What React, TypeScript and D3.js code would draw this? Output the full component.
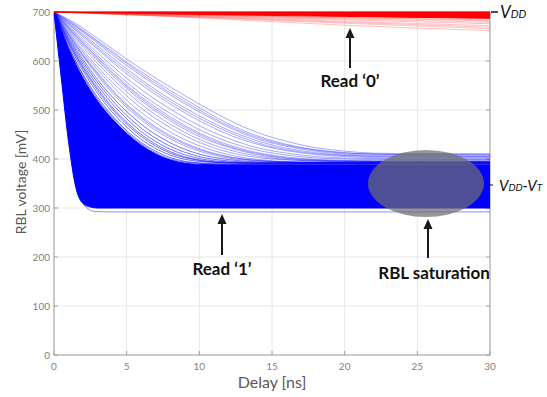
import React from "react";
import * as d3 from "d3";

// Sample times (ns) for the slow-settling "read 1" traces
const delayGrid = [0, 1, 2, 3, 4, 5, 6, 8, 10, 12, 14, 16, 18, 20, 22, 25, 30];

// Slow-discharging bit-line traces (mV) sampled on delayGrid
const slowTraces = [
  [700, 685, 667, 646, 625, 604, 584, 547, 512, 480, 454, 436, 423, 416, 412, 411, 411],
  [700, 683, 663, 641, 620, 598, 578, 540, 505, 472, 447, 430, 419, 413, 410, 409, 408],
  [700, 681, 661, 639, 617, 595, 574, 535, 500, 468, 444, 428, 418, 412, 410, 409, 409],
  [700, 680, 659, 636, 613, 591, 570, 531, 496, 465, 441, 426, 416, 410, 408, 407, 406],
  [700, 678, 655, 631, 607, 584, 562, 522, 488, 459, 437, 422, 413, 408, 406, 405, 405],
  [700, 676, 652, 627, 602, 579, 557, 517, 483, 455, 433, 419, 411, 407, 405, 404, 404],
  [700, 675, 649, 624, 598, 574, 552, 512, 478, 450, 430, 417, 409, 405, 403, 402, 402],
  [700, 672, 644, 617, 590, 565, 542, 502, 468, 442, 423, 412, 405, 402, 401, 400, 400],
  [700, 670, 640, 611, 583, 557, 533, 493, 460, 435, 418, 408, 402, 400, 399, 399, 399],
  [700, 668, 637, 607, 578, 551, 527, 486, 453, 429, 413, 404, 399, 397, 396, 396, 396],
  [700, 667, 635, 604, 575, 548, 523, 482, 450, 426, 411, 402, 398, 396, 396, 396, 396],
  [700, 665, 632, 601, 571, 544, 519, 478, 446, 424, 409, 401, 397, 396, 395, 395, 395],
  [700, 663, 628, 595, 565, 537, 512, 471, 440, 419, 406, 399, 396, 395, 395, 395, 395],
  [700, 660, 622, 588, 557, 529, 504, 464, 434, 414, 403, 398, 396, 395, 395, 395, 395],
  [700, 657, 618, 582, 550, 520, 495, 455, 427, 409, 399, 395, 394, 394, 394, 394, 394],
  [700, 655, 613, 576, 542, 512, 487, 448, 421, 405, 397, 394, 393, 393, 393, 393, 393],
  [700, 654, 611, 573, 539, 509, 484, 445, 419, 404, 397, 394, 393, 393, 393, 393, 393],
  [700, 652, 609, 570, 535, 505, 480, 441, 416, 402, 396, 394, 393, 393, 393, 393, 393],
  [700, 649, 603, 562, 527, 497, 471, 433, 410, 399, 394, 393, 392, 392, 392, 392, 392],
  [700, 646, 598, 556, 520, 489, 463, 426, 405, 396, 393, 392, 392, 392, 392, 392, 392],
  [700, 643, 593, 550, 513, 482, 456, 420, 401, 394, 392, 392, 392, 392, 392, 392, 392],
  [700, 640, 588, 544, 506, 475, 450, 415, 398, 393, 392, 392, 392, 392, 392, 392, 392],
  [700, 638, 585, 540, 502, 471, 446, 412, 397, 392, 391, 391, 391, 391, 391, 391, 391],
  [700, 635, 580, 534, 496, 465, 440, 408, 395, 392, 391, 391, 391, 391, 391, 391, 391],
  [700, 630, 573, 526, 489, 458, 434, 403, 392, 390, 390, 390, 390, 390, 390, 390, 390],
  [700, 628, 570, 522, 486, 455, 431, 400, 391, 389, 389, 389, 389, 389, 389, 389, 389],
];

// Envelope of the dense bundle of "read 1" traces (mV)
const bundleDelay = [0, 0.5, 1, 1.5, 2, 2.5, 3, 4, 5, 6, 8, 10, 12, 15, 20, 25, 30];
const bundleLow = [700, 565, 435, 342, 309, 302, 300, 300, 300, 300, 300, 300, 300, 300, 300, 300, 300];
const bundleHigh = [700, 662, 625, 593, 565, 540, 518, 482, 452, 428, 398, 389, 388, 388, 388, 388, 388];

// Lowest outlier trace
const lowDelay = [0, 0.8, 1.6, 2.2, 2.8, 4, 30];
const lowTrace = [700, 505, 345, 302, 293, 292, 292];

// "Read 0" traces: slight leakage from V_DD
const redDelay = [0, 10, 20, 30];
const redBandLow = [700, 695, 691, 687];
const redTraces = [
  [700, 694, 689, 684],
  [700, 694, 688, 682],
  [700, 693, 686, 679],
  [700, 692, 684, 676],
  [700, 691, 681, 672],
  [700, 690, 679, 669],
  [700, 689, 677, 666],
  [700, 688, 673, 662],
];

const xTicks = [0, 5, 10, 15, 20, 25, 30];
const yTicks = [0, 100, 200, 300, 400, 500, 600, 700];

const W = 547;
const H = 397;
const left = 54;
const right = 490;
const top = 12;
const bottom = 355;

export default function App() {
  const x = d3.scaleLinear().domain([0, 30]).range([left, right]);
  const y = d3.scaleLinear().domain([0, 700]).range([bottom, top]);

  const lineOn = (ts: number[]) =>
    d3
      .line<number>()
      .x((_, i) => x(ts[i]))
      .y((v) => y(v))
      .curve(d3.curveMonotoneX);

  const bundleArea = d3
    .area<number>()
    .x((_, i) => x(bundleDelay[i]))
    .y0((_, i) => y(bundleLow[i]))
    .y1((v) => y(v))
    .curve(d3.curveMonotoneX)(bundleHigh);

  const redArea = d3
    .area<number>()
    .x((_, i) => x(redDelay[i]))
    .y0((v) => y(v))
    .y1(() => y(700))
    .curve(d3.curveMonotoneX)(redBandLow);

  const font = "Lato, 'Open Sans', sans-serif";
  const arrowColor = "#1a1a1a";

  const arrow = (ax: number, y0: number, y1: number) => (
    <g>
      <line x1={ax} x2={ax} y1={y0} y2={y1 + 8} stroke={arrowColor} strokeWidth={2} />
      <path d={`M${ax - 4.5},${y1 + 10} L${ax},${y1} L${ax + 4.5},${y1 + 10} Z`} fill={arrowColor} />
    </g>
  );

  return (
    <svg
      width={W}
      height={H}
      style={{ position: "absolute", left: 0, top: 0, background: "#fff" }}
      fontFamily={font}
    >
      <defs>
        <clipPath id="plot">
          <rect x={left} y={top - 2} width={right - left} height={bottom - top + 2} />
        </clipPath>
      </defs>

      {/* grid */}
      <g stroke="#e8e8e8" strokeWidth={1}>
        {xTicks.map((t) => (
          <line key={"gx" + t} x1={x(t)} x2={x(t)} y1={top} y2={bottom} />
        ))}
        {yTicks.map((t) => (
          <line key={"gy" + t} x1={left} x2={right} y1={y(t)} y2={y(t)} />
        ))}
      </g>

      {/* frame */}
      <rect x={left} y={top} width={right - left} height={bottom - top} fill="none" stroke="#b0b0b0" strokeWidth={1.2} />
      <g stroke="#a0a0a0" strokeWidth={1}>
        {xTicks.map((t) => (
          <g key={"tx" + t}>
            <line x1={x(t)} x2={x(t)} y1={bottom} y2={bottom - 4} />
            <line x1={x(t)} x2={x(t)} y1={top} y2={top + 4} />
          </g>
        ))}
        {yTicks.map((t) => (
          <g key={"ty" + t}>
            <line x1={left} x2={left + 4} y1={y(t)} y2={y(t)} />
            <line x1={right} x2={right - 4} y1={y(t)} y2={y(t)} />
          </g>
        ))}
      </g>

      {/* traces */}
      <g clipPath="url(#plot)">
        <path d={bundleArea ?? ""} fill="#0000ff" stroke="#0000ff" strokeWidth={1} />
        <path d={lineOn(lowDelay)(lowTrace) ?? ""} fill="none" stroke="#0000ff" strokeOpacity={0.45} strokeWidth={1} />
        {slowTraces.map((tr, i) => (
          <path
            key={"s" + i}
            d={lineOn(delayGrid)(tr) ?? ""}
            fill="none"
            stroke="#0000ff"
            strokeOpacity={i > 17 ? 0.55 : 0.35}
            strokeWidth={1}
          />
        ))}
        {redTraces.map((tr, i) => (
          <path
            key={"r" + i}
            d={lineOn(redDelay)(tr) ?? ""}
            fill="none"
            stroke="#ff0000"
            strokeOpacity={0.25}
            strokeWidth={1}
          />
        ))}
        <path d={redArea ?? ""} fill="#ff0000" stroke="#ff0000" strokeWidth={1} />
      </g>

      {/* saturation region */}
      <ellipse cx={426} cy={183.5} rx={58} ry={33.5} fill="#6e6e6e" fillOpacity={0.72} />

      {/* tick labels */}
      <g fill="#808080" fontSize={10}>
        {xTicks.map((t) => (
          <text key={"lx" + t} x={x(t)} y={370} textAnchor="middle">
            {t}
          </text>
        ))}
        {yTicks.map((t) => (
          <text key={"ly" + t} x={left - 4} y={y(t)} dy="0.35em" textAnchor="end">
            {t}
          </text>
        ))}
      </g>

      {/* axis titles */}
      <text x={272} y={388} textAnchor="middle" fontSize={16} fill="#595959">
        Delay [ns]
      </text>
      <text
        transform={`translate(26, 182) rotate(-90)`}
        textAnchor="middle"
        fontSize={14}
        fill="#595959"
      >
        RBL voltage [mV]
      </text>

      {/* reference level markers */}
      <line x1={491} x2={498} y1={y(700)} y2={y(700)} stroke="#111" strokeWidth={1.5} />
      <text x={500} y={18} fontSize={17} fontStyle="italic" fill="#111">
        V<tspan fontSize={11}>DD</tspan>
      </text>
      <line x1={487} x2={493} y1={185} y2={185} stroke="#111" strokeWidth={1} />
      <text x={499} y={191} fontSize={15} fontStyle="italic" fill="#111">
        V<tspan fontSize={10}>DD</tspan>-V<tspan fontSize={10}>T</tspan>
      </text>

      {/* annotations */}
      {arrow(350, 68, 28)}
      <text x={350} y={87} textAnchor="middle" fontSize={17} fontWeight="bold" fill="#111">
        Read ‘0’
      </text>
      {arrow(222, 255, 214)}
      <text x={222} y={275} textAnchor="middle" fontSize={17} fontWeight="bold" fill="#111">
        Read ‘1’
      </text>
      {arrow(428, 258, 219)}
      <text x={434} y={279} textAnchor="middle" fontSize={17} fontWeight="bold" fill="#111">
        RBL saturation
      </text>
    </svg>
  );
}
